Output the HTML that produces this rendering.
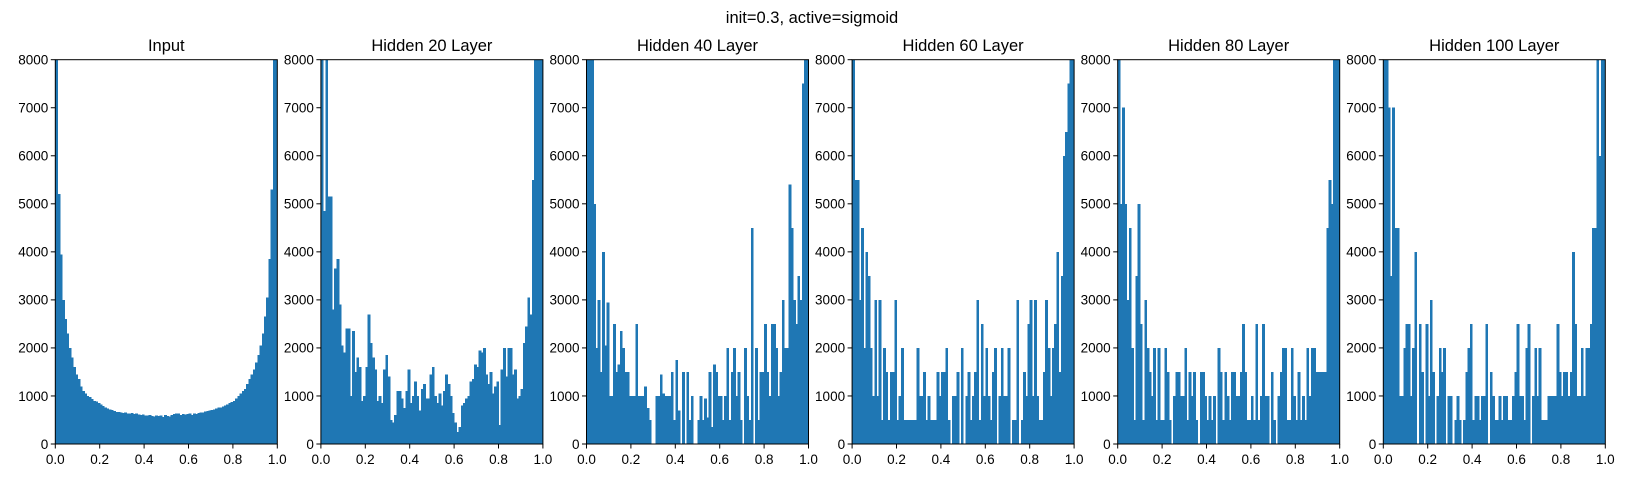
<!DOCTYPE html>
<html><head><meta charset="utf-8">
<style>
html,body{margin:0;padding:0;background:#fff;}
svg{display:block;font-family:"Liberation Sans","DejaVu Sans",sans-serif;}
</style></head>
<body>
<svg id="fig" width="1625" height="478" viewBox="0 0 1625 478" xmlns="http://www.w3.org/2000/svg">
<rect width="1625" height="478" fill="#fff"/>
<text x="812" y="23" font-size="16.5" text-anchor="middle" fill="#000">init=0.3, active=sigmoid</text>
</svg>
<script>
const panelTitles = ["Input","Hidden 20 Layer","Hidden 40 Layer","Hidden 60 Layer","Hidden 80 Layer","Hidden 100 Layer"];
const yTicks = [0,1000,2000,3000,4000,5000,6000,7000,8000];
const xTicks = ["0.0","0.2","0.4","0.6","0.8","1.0"];
const xTickValues = [0,0.2,0.4,0.6,0.8,1.0];
const countsInput = [9500,5200,3950,3000,2600,2300,2000,1800,1600,1450,1350,1200,1100,1050,1000,980,940,900,880,850,820,790,760,740,720,710,690,670,670,660,650,660,640,630,650,620,630,610,600,610,590,590,600,580,570,590,580,590,560,600,580,570,600,620,640,630,600,620,610,620,630,600,640,620,650,660,660,680,690,700,710,720,740,760,760,780,800,820,850,870,900,950,1000,1050,1100,1150,1250,1350,1450,1550,1700,1850,2050,2300,2650,3050,3850,5300,8500,9500];
const countsH20 = [9000,4850,9000,5150,5150,2800,3650,3850,2900,2050,1900,2400,2400,1000,2350,1500,1800,1600,900,1000,1600,2700,2100,1800,1550,900,1000,850,1550,1850,1400,500,450,600,1100,1100,950,750,1100,1550,850,1000,1300,1000,700,1150,1250,950,950,1450,1600,1000,850,1050,800,1100,1450,1250,1000,650,450,250,350,800,850,950,1000,1300,1350,1650,1600,1950,1900,2000,1450,1250,1500,1050,1200,1300,400,1550,2000,1400,2000,2000,1450,1550,950,1000,1150,2100,2450,3050,2700,5500,9000,9000,9000,9000];
const countsH40 = [9000,9000,9000,5000,2000,3000,1500,4000,2050,2950,1000,1000,2500,1500,1650,2350,2000,1500,1500,1000,1000,1000,2500,1000,1000,1000,1200,750,500,0,0,1000,1000,1450,1050,1000,1000,1000,1500,500,1750,700,0,1500,0,1500,500,1000,0,0,500,1000,500,950,550,1500,350,1650,1500,1000,1000,500,1000,2000,500,1500,2000,1000,1500,500,0,2000,1000,500,4500,0,2000,500,1500,1500,2500,1500,1000,2500,2500,2000,1000,1500,3000,2000,2000,5400,4500,3000,2500,3500,3000,7500,9000,9000];
const countsH60 = [9000,5500,5500,3000,4500,2000,4000,3500,2000,1000,3000,1000,3000,500,2000,1500,500,1500,1500,3000,500,1000,2000,500,500,500,500,500,500,2000,1000,1000,1500,500,1000,500,500,500,1500,1000,1500,1500,2000,500,0,1000,1000,1500,0,2000,0,1000,1500,500,1000,1500,3000,500,2500,1000,2000,1000,500,1500,2000,0,1000,2000,1000,1000,2000,0,500,500,3000,0,500,1500,1000,2500,3000,1000,3000,1000,500,500,1500,3000,2000,1000,2000,2500,4000,1500,3500,6000,6500,7500,9000,9000];
const countsH80 = [9000,5000,7000,5000,3000,4500,2000,500,3500,5000,2500,500,3000,2000,1500,1000,2000,500,2000,500,500,2000,1500,500,0,1000,1500,1500,1000,1000,2000,500,1500,1000,1500,500,0,1500,1500,1000,500,1000,500,1000,0,2000,1500,500,1500,1000,500,1500,1500,1000,1000,1500,2500,1500,500,500,1000,500,2500,500,1000,2500,1000,1000,0,1500,500,0,1000,1500,2000,2000,500,500,2000,1000,500,1500,500,1000,500,2000,1000,2000,2000,1500,1500,1500,1500,1500,4500,5500,5000,9000,9000,9000];
const countsH100 = [9000,9000,7000,3500,7000,4500,4500,1000,1000,2000,2500,2500,1000,2000,4000,0,2500,1500,0,2500,1000,3000,1500,0,1000,2000,1500,2000,0,1000,1000,0,500,1000,500,0,500,1500,2000,2500,500,1000,1000,500,1000,1000,2500,0,1500,1000,500,500,1000,500,1000,1000,500,500,1000,1500,2500,1000,1000,500,2000,2500,0,1000,2000,1000,2000,500,500,500,1000,1000,1000,1000,2500,1500,1000,1500,1500,1000,1500,4000,2500,1000,1000,2000,1000,2000,2000,2500,4500,4500,9000,6000,9000,9000];
const allCounts = [countsInput,countsH20,countsH40,countsH60,countsH80,countsH100];

const NS="http://www.w3.org/2000/svg";
const svg=document.getElementById('fig');
const AX0=55.3, STEP=265.6, AW=222, TOP=59.7, BOT=444, YMAX=8000;
function mk(tag,attrs,parent){const e=document.createElementNS(NS,tag);for(const k in attrs)e.setAttribute(k,attrs[k]);(parent||svg).appendChild(e);return e;}

allCounts.forEach((counts,p)=>{
  const left=AX0+p*STEP;
  const xs=v=>left+v*AW;
  const ys=v=>BOT-(Math.min(v,YMAX)/YMAX)*(BOT-TOP);
  const g=mk('g',{});
  
  
  const n=counts.length;
  counts.forEach((c,i)=>{
    if(c<=0)return;
    const x0=xs(i/n), x1=xs((i+1)/n);
    const w = (i===n-1) ? (x1-x0) : (x1-x0+0.6);
    const r=mk('rect',{x:x0,y:ys(c),width:w,height:BOT-ys(c),fill:'#1f77b4','shape-rendering':'crispEdges'},g);
    
    
  });
  const fr=mk('rect',{x:left,y:TOP,width:AW,height:BOT-TOP,fill:'none',stroke:'#000','stroke-width':1},g);
  
  
  const t=mk('text',{x:left+AW/2,y:51,'font-size':16.5,'text-anchor':'middle',fill:'#000'},g);
  t.textContent=panelTitles[p];
  
  
  yTicks.forEach(v=>{
    const y=ys(v);
    mk('line',{x1:left-4.5,x2:left,y1:y,y2:y,stroke:'#000','stroke-width':1},g);
    const tl=mk('text',{x:left-7,y:y+4.8,'font-size':13.5,'text-anchor':'end',fill:'#000'},g);
    tl.textContent=String(v);
    
    
  });
  xTickValues.forEach((v,k)=>{
    const x=xs(v);
    mk('line',{x1:x,x2:x,y1:BOT,y2:BOT+4.5,stroke:'#000','stroke-width':1},g);
    const tl=mk('text',{x:x,y:BOT+20,'font-size':13.5,'text-anchor':'middle',fill:'#000'},g);
    tl.textContent=xTicks[k];
    
    
  });
});
</script>
</body></html>
